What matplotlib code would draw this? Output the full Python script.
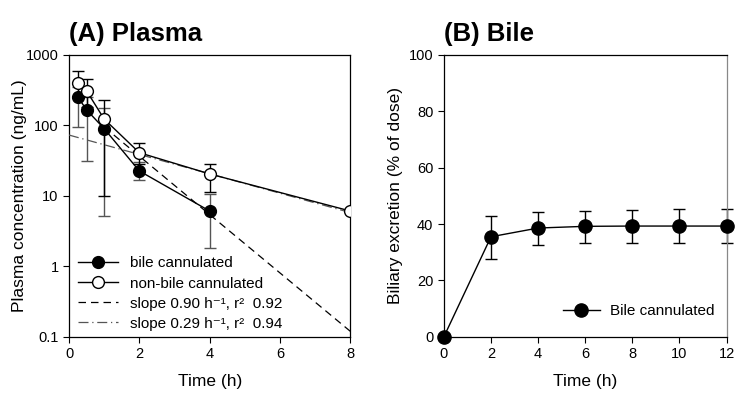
import matplotlib.pyplot as plt
import numpy as np

plt.rcParams['font.family'] = ['Liberation Sans', 'DejaVu Sans']

# (A) plasma
t_bile = [0.25, 0.5, 1, 2, 4]
c_bile = [254, 166, 90, 22.6, 6.1]
c_bile_lo = [95, 31.5, 5.2, 17, 1.8]
c_bile_hi = [350, 250, 177, 30, 10.8]

t_non = [0.25, 0.5, 1, 2, 4, 8]
c_non = [401, 309, 123, 41, 20.5, 6.1]
c_non_lo = [250, 180, 10, 28, 11.5, 6.1]
c_non_hi = [593, 457, 230, 57, 28, 6.1]

# fitted elimination lines
fit1_t = [1, 8]
fit1_c = [95, 0.12]
fit2_t = [0, 8]
fit2_c = [73, 5.8]

# (B) bile
t_ex = [0, 2, 4, 6, 8, 10, 12]
ex = [0, 35.5, 38.6, 39.2, 39.3, 39.3, 39.3]
ex_lo = [0, 27.6, 32.6, 33.3, 33.4, 33.4, 33.4]
ex_hi = [0, 43, 44.2, 44.7, 45, 45.2, 45.2]


def asym(v, lo, hi):
    v = np.array(v)
    return [v - np.array(lo), np.array(hi) - v]


fig = plt.figure(figsize=(7.46, 4.01), dpi=100)
ax1 = fig.add_axes([0.0925, 0.160, 0.377, 0.703])
ax2 = fig.add_axes([0.595, 0.160, 0.379, 0.703])

ax1.errorbar(t_bile, c_bile, yerr=asym(c_bile, c_bile_lo, c_bile_hi), fmt='none',
             ecolor='#555555', elinewidth=1, capsize=4, zorder=2)
ax1.errorbar(t_non, c_non, yerr=asym(c_non, c_non_lo, c_non_hi), fmt='none',
             ecolor='black', elinewidth=1, capsize=4, zorder=2)
ax1.plot(t_bile, c_bile, '-o', color='black', lw=1, ms=8.5, mfc='black',
         label='bile cannulated', zorder=4)
ax1.plot(t_non, c_non, '-o', color='black', lw=1, ms=8.5, mfc='white',
         label='non-bile cannulated', zorder=4)
ax1.plot(fit1_t, fit1_c, ls=(0, (6, 4)), color='black', lw=0.9,
         label='slope 0.90 h⁻¹, r²  0.92', zorder=3)
ax1.plot(fit2_t, fit2_c, ls=(0, (8, 3, 1, 3)), color='#555555', lw=0.9,
         label='slope 0.29 h⁻¹, r²  0.94', zorder=3)
ax1.set_yscale('log')
ax1.set_ylim(0.1, 1000)
ax1.set_xlim(0, 8)
ax1.set_xticks([0, 2, 4, 6, 8])
ax1.set_yticks([0.1, 1, 10, 100, 1000])
ax1.set_yticklabels(['0.1', '1', '10', '100', '1000'])
ax1.minorticks_off()
ax1.set_xlabel('Time (h)', fontsize=12.5, labelpad=9)
ax1.set_ylabel('Plasma concentration (ng/mL)', fontsize=12.5)
ax1.yaxis.set_label_coords(-0.149, 0.5)
ax1.set_title('(A) Plasma', fontsize=18.5, fontweight='bold', loc='left', pad=10)
ax1.legend(loc='lower left', frameon=False, fontsize=11, handlelength=2.6,
           borderaxespad=0, labelspacing=0.4, handletextpad=0.8,
           bbox_to_anchor=(0.01, 0.0))

ax2.errorbar(t_ex, ex, yerr=asym(ex, ex_lo, ex_hi), fmt='none',
             ecolor='black', elinewidth=1, capsize=4, clip_on=False, zorder=2)
ax2.plot(t_ex, ex, '-o', color='black', lw=1, ms=9.5, mfc='black',
         label='Bile cannulated', clip_on=False, zorder=3)
ax2.set_xlim(0, 12)
ax2.set_ylim(0, 100)
ax2.set_xticks(range(0, 13, 2))
ax2.set_yticks(range(0, 101, 20))
ax2.set_xlabel('Time (h)', fontsize=12.5, labelpad=9)
ax2.set_ylabel('Biliary excretion (% of dose)', fontsize=12.5)
ax2.yaxis.set_label_coords(-0.145, 0.5)
ax2.set_title('(B) Bile', fontsize=18.5, fontweight='bold', loc='left', pad=10)
ax2.legend(loc='lower right', frameon=False, fontsize=11, handlelength=2.4,
           handletextpad=0.7, borderaxespad=0, bbox_to_anchor=(0.98, 0.045))

for ax in (ax1, ax2):
    ax.tick_params(direction='out', length=4, width=0.8, labelsize=10.5)
    for s in ax.spines.values():
        s.set_linewidth(0.9)
ax2.spines['right'].set_color('#888888')

fig.savefig('out.png', dpi=100)
